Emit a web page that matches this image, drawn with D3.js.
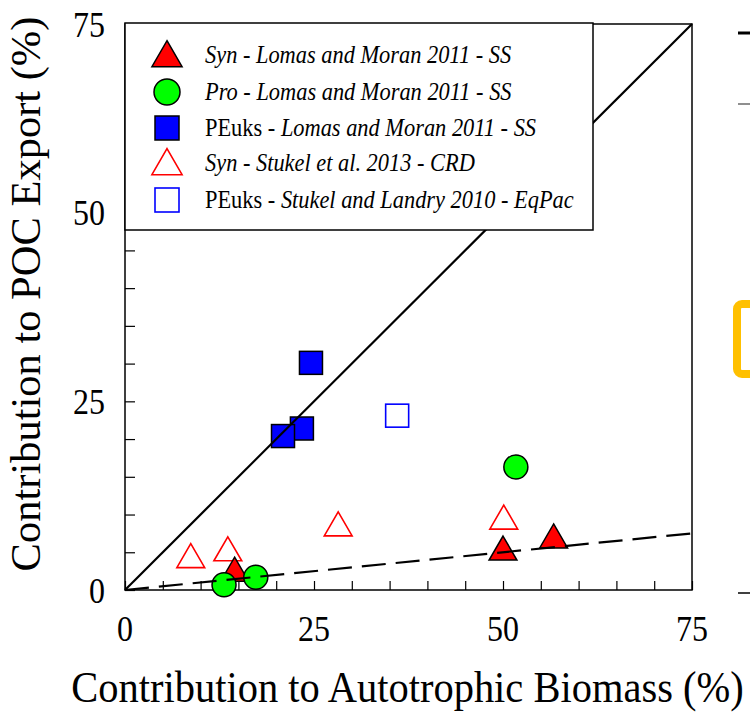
<!DOCTYPE html>
<meta charset="utf-8">
<script src="https://d3js.org/d3.v7.min.js"></script>
<style>
  body { margin: 0; background: #fff; }
  text { font-family: "Liberation Serif", "Times New Roman", serif; fill: #000; }
</style>
<body>
<script>
// data (% contribution)
var synLomasX = [14.5, 50.0, 56.7];
var synLomasY = [2.6, 5.4, 7.0];
var proLomasX = [13.1, 17.3, 51.7];
var proLomasY = [0.7, 1.7, 16.3];
var peukLomasX = [24.6, 23.4, 20.9];
var peukLomasY = [30.1, 21.4, 20.4];
var synStukelX = [8.7, 13.6, 28.2, 50.1];
var synStukelY = [4.4, 5.3, 8.6, 9.5];
var peukStukelX = [36.0];
var peukStukelY = [23.1];

var tickValues = [0, 25, 50, 75];
var minorTicks = d3.range(0, 76, 5);
var oneToOne = [[0, 0], [75, 75]];
var tenPct = [[0, 0], [75, 7.5]];

var legendLabels = [
  {pre: "", it: "Syn - Lomas and Moran 2011 - SS"},
  {pre: "", it: "Pro - Lomas and Moran 2011 - SS"},
  {pre: "PEuks - ", it: "Lomas and Moran 2011 - SS"},
  {pre: "", it: "Syn - Stukel et al. 2013 - CRD"},
  {pre: "PEuks - ", it: "Stukel and Landry 2010 - EqPac"}
];

var W = 750, H = 716;
var margin = {top: 24, right: 58, bottom: 126, left: 125};
var width = W - margin.left - margin.right,
    height = H - margin.top - margin.bottom;

var svg = d3.select("body").append("svg")
    .attr("width", W)
    .attr("height", H);

var g = svg.append("g")
    .attr("transform", "translate(" + margin.left + "," + margin.top + ")");

var x = d3.scaleLinear().domain([0, 75]).range([0, width]);
var y = d3.scaleLinear().domain([0, 75]).range([height, 0]);

// frame
g.append("rect")
  .attr("width", width).attr("height", height)
  .attr("fill", "none").attr("stroke", "#000").attr("stroke-width", 1.5);

// inward ticks
var xAxis = g.append("g")
  .attr("transform", "translate(0," + height + ")")
  .call(d3.axisBottom(x).tickValues(minorTicks).tickSize(-9).tickFormat(""));
var yAxis = g.append("g")
  .call(d3.axisLeft(y).tickValues(minorTicks).tickSize(-10).tickFormat(""));
[xAxis, yAxis].forEach(function(a) {
  a.select(".domain").remove();
  a.selectAll("line").attr("stroke", "#000").attr("stroke-width", 1.2);
});

// tick labels (text in the figure is a little stretched vertically)
g.selectAll(".xl").data(tickValues).enter().append("text")
  .attr("transform", function(d) { return "translate(" + x(d) + "," + (height + 51) + ") scale(1,1.12)"; })
  .attr("text-anchor", "middle")
  .style("font-size", "32px")
  .text(function(d) { return d; });
g.selectAll(".yl").data(tickValues).enter().append("text")
  .attr("transform", function(d) { return "translate(-20," + y(d) + ") scale(1,1.12)"; })
  .attr("dy", "0.35em")
  .attr("text-anchor", "end")
  .style("font-size", "32px")
  .text(function(d) { return d; });

// axis titles
svg.append("text")
  .attr("transform", "translate(" + (margin.left + width / 2 - 1) + ",702) scale(1,1.12)")
  .attr("text-anchor", "middle")
  .style("font-size", "40.5px")
  .text("Contribution to Autotrophic Biomass (%)");
svg.append("text")
  .attr("transform", "translate(40,294) rotate(-90)")
  .attr("text-anchor", "middle")
  .style("font-size", "42.5px")
  .text("Contribution to POC Export (%)");

// marker helpers
function pts(xs, ys) { return xs.map(function(v, i) { return [v, ys[i]]; }); }
function triPath(s) { return "M0," + (-s * 0.55) + "L" + (s * 0.58) + "," + (s * 0.45) + "L" + (-s * 0.58) + "," + (s * 0.45) + "Z"; }

var marks = g.append("g");

// open squares
marks.selectAll(".os").data(pts(peukStukelX, peukStukelY)).enter().append("rect")
  .attr("x", function(d) { return x(d[0]) - 11.5; })
  .attr("y", function(d) { return y(d[1]) - 11.5; })
  .attr("width", 23).attr("height", 23)
  .attr("fill", "#fff").attr("stroke", "#0000ff").attr("stroke-width", 1.6);

// open triangles
marks.selectAll(".ot").data(pts(synStukelX, synStukelY)).enter().append("path")
  .attr("transform", function(d) { return "translate(" + x(d[0]) + "," + y(d[1]) + ")"; })
  .attr("d", triPath(24))
  .attr("fill", "#fff").attr("stroke", "#ff0000").attr("stroke-width", 1.6);

// filled squares
marks.selectAll(".fs").data(pts(peukLomasX, peukLomasY)).enter().append("rect")
  .attr("x", function(d) { return x(d[0]) - 11.5; })
  .attr("y", function(d) { return y(d[1]) - 11.5; })
  .attr("width", 23).attr("height", 23)
  .attr("fill", "#0000ff").attr("stroke", "#000").attr("stroke-width", 1.5);

// filled triangles
marks.selectAll(".ft").data(pts(synLomasX, synLomasY)).enter().append("path")
  .attr("transform", function(d) { return "translate(" + x(d[0]) + "," + y(d[1]) + ")"; })
  .attr("d", triPath(24))
  .attr("fill", "#ff0000").attr("stroke", "#000").attr("stroke-width", 1.5);

// circles
marks.selectAll(".fc").data(pts(proLomasX, proLomasY)).enter().append("circle")
  .attr("cx", function(d) { return x(d[0]); })
  .attr("cy", function(d) { return y(d[1]); })
  .attr("r", 12)
  .attr("fill", "#00ff00").attr("stroke", "#000").attr("stroke-width", 1.5);

// reference lines
var line = d3.line().x(function(d) { return x(d[0]); }).y(function(d) { return y(d[1]); });
g.append("path").attr("d", line(oneToOne))
  .attr("fill", "none").attr("stroke", "#000").attr("stroke-width", 2.2);
g.append("path").attr("d", line(tenPct))
  .attr("fill", "none").attr("stroke", "#000").attr("stroke-width", 2.2)
  .attr("stroke-dasharray", "24,10");

// legend
var leg = g.append("g");
leg.append("rect")
  .attr("x", 0).attr("y", -1)
  .attr("width", 468).attr("height", 207)
  .attr("fill", "#fff").attr("stroke", "#000").attr("stroke-width", 1.5);

var rowY = [31, 68, 104, 139, 176];
var mx = 42;
leg.append("path").attr("transform", "translate(" + mx + "," + rowY[0] + ")")
  .attr("d", triPath(26)).attr("fill", "#ff0000").attr("stroke", "#000").attr("stroke-width", 1.5);
leg.append("circle").attr("cx", mx).attr("cy", rowY[1]).attr("r", 13)
  .attr("fill", "#00ff00").attr("stroke", "#000").attr("stroke-width", 1.5);
leg.append("rect").attr("x", mx - 12).attr("y", rowY[2] - 12).attr("width", 24).attr("height", 24)
  .attr("fill", "#0000ff").attr("stroke", "#000").attr("stroke-width", 1.5);
leg.append("path").attr("transform", "translate(" + mx + "," + rowY[3] + ")")
  .attr("d", triPath(26)).attr("fill", "#fff").attr("stroke", "#ff0000").attr("stroke-width", 1.6);
leg.append("rect").attr("x", mx - 12).attr("y", rowY[4] - 12).attr("width", 24).attr("height", 24)
  .attr("fill", "#fff").attr("stroke", "#0000ff").attr("stroke-width", 1.6);

legendLabels.forEach(function(l, i) {
  var t = leg.append("text")
    .attr("transform", "translate(80," + rowY[i] + ") scale(1,1.08)")
    .attr("dy", "0.35em")
    .style("font-size", "22.4px");
  if (l.pre) t.append("tspan").text(l.pre);
  t.append("tspan").style("font-style", "italic").text(l.it);
});

// clipped edge of the neighbouring panel
var edge = svg.append("g");
edge.append("line").attr("x1", 738).attr("x2", 750).attr("y1", 33).attr("y2", 33)
  .attr("stroke", "#000").attr("stroke-width", 3);
edge.append("line").attr("x1", 738).attr("x2", 750).attr("y1", 104).attr("y2", 104)
  .attr("stroke", "#444").attr("stroke-width", 1.2);
edge.append("rect").attr("x", 737).attr("y", 304).attr("width", 30).attr("height", 70).attr("rx", 5)
  .attr("fill", "#fff").attr("stroke", "#ffc000").attr("stroke-width", 8);
edge.append("line").attr("x1", 738).attr("x2", 750).attr("y1", 593).attr("y2", 593)
  .attr("stroke", "#000").attr("stroke-width", 1.5);
</script>
</body>
